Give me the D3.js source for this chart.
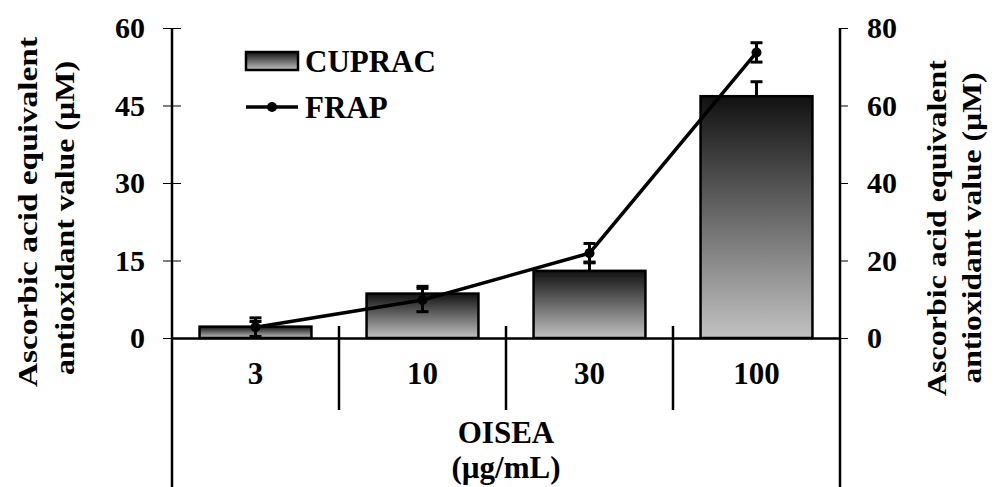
<!DOCTYPE html>
<html>
<head>
<meta charset="utf-8">
<script src="https://cdn.jsdelivr.net/npm/d3@7"></script>
<style>
  body { margin: 0; background: #fff; }
  svg text { font-family: "Liberation Serif", "Times New Roman", serif; font-weight: bold; fill: #000; }
</style>
</head>
<body>
<div id="chart"></div>
<script>
// categories (OISEA concentration, µg/mL)
const categories = ["3", "10", "30", "100"];
// CUPRAC bars (left axis) and FRAP line (right axis)
const cupracValues = [2.2, 8.6, 13.0, 46.8];
const cupracErrors = [1.0, 1.4, 1.7, 2.8];
const frapValues = [2.8, 9.8, 21.9, 73.7];
const frapErrors = [2.4, 3.0, 2.5, 2.5];
const leftTicks = [0, 15, 30, 45, 60];
const rightTicks = [0, 20, 40, 60, 80];

const width = 998, height = 487;
const margin = { top: 28, left: 172, right: 158, bottom: 149 };
const plotBottom = height - margin.bottom;

const svg = d3.select("#chart")
    .append("svg")
    .attr("width", width)
    .attr("height", height);

// vertical gradient for the bars
const grad = svg.append("defs").append("linearGradient")
    .attr("id", "barGrad")
    .attr("x1", 0).attr("y1", 0).attr("x2", 0).attr("y2", 1);
grad.append("stop").attr("offset", "0%").attr("stop-color", "#111");
grad.append("stop").attr("offset", "100%").attr("stop-color", "#c2c2c2");

// scales
const x = d3.scaleBand()
    .domain(categories)
    .range([margin.left, width - margin.right]);

const yLeft = d3.scaleLinear()
    .domain([0, 60])
    .range([plotBottom, margin.top]);

const yRight = d3.scaleLinear()
    .domain([0, 80])
    .range([plotBottom, margin.top]);

const barW = x.bandwidth() * 0.67;

// bars
svg.selectAll("rect.bar")
    .data(categories)
    .enter()
    .append("rect")
    .attr("class", "bar")
    .attr("x", d => x(d) + (x.bandwidth() - barW) / 2)
    .attr("y", (d, i) => yLeft(cupracValues[i]))
    .attr("width", barW)
    .attr("height", (d, i) => plotBottom - yLeft(cupracValues[i]))
    .attr("fill", "url(#barGrad)")
    .attr("stroke", "#000")
    .attr("stroke-width", 2.5);

// bar error bars (upper only)
const cx = d => x(d) + x.bandwidth() / 2;
const barErr = svg.append("g").attr("stroke", "#000").attr("stroke-width", 3);
categories.forEach((d, i) => {
    const y0 = yLeft(cupracValues[i]), y1 = yLeft(cupracValues[i] + cupracErrors[i]);
    barErr.append("line").attr("x1", cx(d)).attr("x2", cx(d)).attr("y1", y0).attr("y2", y1);
    barErr.append("line").attr("x1", cx(d) - 6).attr("x2", cx(d) + 6).attr("y1", y1).attr("y2", y1);
});

// FRAP line
const line = d3.line()
    .x(d => cx(d))
    .y((d, i) => yRight(frapValues[i]));

svg.append("path")
    .datum(categories)
    .attr("d", line)
    .attr("fill", "none")
    .attr("stroke", "#000")
    .attr("stroke-width", 3.5);

const frapErr = svg.append("g").attr("stroke", "#000").attr("stroke-width", 3);
categories.forEach((d, i) => {
    const lo = yRight(frapValues[i] - frapErrors[i]), hi = yRight(frapValues[i] + frapErrors[i]);
    frapErr.append("line").attr("x1", cx(d)).attr("x2", cx(d)).attr("y1", lo).attr("y2", hi);
    frapErr.append("line").attr("x1", cx(d) - 6).attr("x2", cx(d) + 6).attr("y1", lo).attr("y2", lo);
    frapErr.append("line").attr("x1", cx(d) - 6).attr("x2", cx(d) + 6).attr("y1", hi).attr("y2", hi);
});

svg.selectAll("circle.frap")
    .data(categories)
    .enter()
    .append("circle")
    .attr("class", "frap")
    .attr("cx", d => cx(d))
    .attr("cy", (d, i) => yRight(frapValues[i]))
    .attr("r", 5)
    .attr("fill", "#000");

// left axis (ticks cross the line)
const leftAxis = svg.append("g")
    .attr("transform", `translate(${margin.left},0)`)
    .call(d3.axisLeft(yLeft).tickValues(leftTicks).tickSize(9).tickPadding(18));
svg.append("g")
    .attr("transform", `translate(${margin.left},0)`)
    .call(d3.axisLeft(yLeft).tickValues(leftTicks).tickSize(-9).tickFormat(""))
    .select(".domain").remove();

// right axis
const rightAxis = svg.append("g")
    .attr("transform", `translate(${width - margin.right},0)`)
    .call(d3.axisRight(yRight).tickValues(rightTicks).tickSize(8).tickPadding(19));

[leftAxis, rightAxis].forEach(a => {
    a.select(".domain").remove();
    a.selectAll("text").style("font-size", "30px");
});

// full-height axis lines
svg.append("line")
    .attr("x1", margin.left).attr("x2", margin.left)
    .attr("y1", margin.top).attr("y2", height)
    .attr("stroke", "#000").attr("stroke-width", 2.5);
svg.append("line")
    .attr("x1", width - margin.right).attr("x2", width - margin.right)
    .attr("y1", margin.top).attr("y2", height)
    .attr("stroke", "#000").attr("stroke-width", 2.5);

// category axis
const bottomAxis = svg.append("g")
    .attr("transform", `translate(0,${plotBottom})`)
    .call(d3.axisBottom(x).tickSize(0).tickPadding(24));
bottomAxis.select(".domain").attr("stroke-width", 2.5);
bottomAxis.selectAll("text").style("font-size", "31px");

// category separators
svg.append("g")
    .selectAll("line")
    .data(categories.slice(1))
    .enter()
    .append("line")
    .attr("x1", d => x(d)).attr("x2", d => x(d))
    .attr("y1", plotBottom - 12).attr("y2", plotBottom + 72)
    .attr("stroke", "#000").attr("stroke-width", 2.5);

// x title
const midX = (margin.left + width - margin.right) / 2;
svg.append("text")
    .attr("x", midX).attr("y", 443)
    .attr("text-anchor", "middle")
    .style("font-size", "31px")
    .text("OISEA");
svg.append("text")
    .attr("x", midX).attr("y", 478)
    .attr("text-anchor", "middle")
    .style("font-size", "31px")
    .text("(µg/mL)");

// y titles
function yTitle(xc, yc, str, len) {
    svg.append("text")
        .attr("transform", `translate(${xc},${yc}) rotate(-90)`)
        .attr("text-anchor", "middle")
        .attr("textLength", len)
        .attr("lengthAdjust", "spacingAndGlyphs")
        .style("font-size", "27px")
        .text(str);
}
yTitle(37, 212, "Ascorbic acid equivalent", 350);
yTitle(74, 218, "antioxidant value (µM)", 314);
yTitle(946, 228, "Ascorbic acid equivalent", 336);
yTitle(981, 228, "antioxidant value (µM)", 311);

// legend
const legend = svg.append("g");
legend.append("rect")
    .attr("x", 246).attr("y", 52).attr("width", 52).attr("height", 18)
    .attr("fill", "url(#barGrad)").attr("stroke", "#000").attr("stroke-width", 2.5);
legend.append("text")
    .attr("x", 305).attr("y", 72)
    .style("font-size", "31px")
    .text("CUPRAC");
legend.append("line")
    .attr("x1", 246).attr("x2", 298).attr("y1", 107).attr("y2", 107)
    .attr("stroke", "#000").attr("stroke-width", 3.5);
legend.append("circle")
    .attr("cx", 272).attr("cy", 107).attr("r", 5).attr("fill", "#000");
legend.append("text")
    .attr("x", 305).attr("y", 118)
    .style("font-size", "31px")
    .text("FRAP");
</script>
</body>
</html>
